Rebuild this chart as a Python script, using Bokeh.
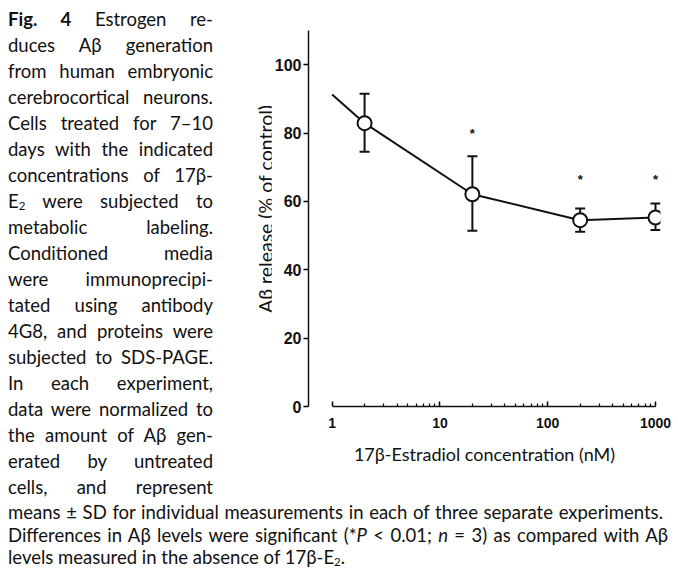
from bokeh.plotting import figure
from bokeh.models import (ColumnDataSource, Whisker, TeeHead, FixedTicker, Div, Range1d)
from bokeh.layouts import row, column
from bokeh.embed import file_html
from bokeh.resources import INLINE
from bokeh.core.properties import value

# ---- data ----
conc = [2, 20, 200, 1000]                 # nM
release = [82.9, 62.1, 54.5, 55.3]        # % of control
err_upper = [91.5, 73.2, 57.9, 59.4]
err_lower = [74.5, 51.4, 51.1, 51.6]
line_x = [1, 2, 20, 200, 1000]
line_y = [91.3, 82.9, 62.1, 54.5, 55.3]
star_x = [20, 200, 1000]
star_y = [79.9, 66.5, 66.5]
x_ticks = [1, 10, 100, 1000]
x_minor = [2, 3, 4, 5, 6, 7, 8, 9, 20, 30, 40, 50, 60, 70, 80, 90,
           200, 300, 400, 500, 600, 700, 800, 900]
y_ticks = [0, 20, 40, 60, 80, 100]
y_label_text = "A&beta; release (% of control)"
x_label_text = "17\u03b2-Estradiol concentration (nM)"

caption_lines = [
    "<b>Fig. 4</b> Estrogen re-",
    "duces A&beta; generation",
    "from human embryonic",
    "cerebrocortical neurons.",
    "Cells treated for 7&ndash;10",
    "days with the indicated",
    "concentrations of 17&beta;-",
    "E<span class='s'>2</span> were subjected to",
    "metabolic labeling.",
    "Conditioned media",
    "were immunoprecipi-",
    "tated using antibody",
    "4G8, and proteins were",
    "subjected to SDS-PAGE.",
    "In each experiment,",
    "data were normalized to",
    "the amount of A&beta; gen-",
    "erated by untreated",
    "cells, and represent",
]
bottom_lines = [
    "means &plusmn; SD for individual measurements in each of three separate experiments.",
    "Differences in A&beta; levels were significant (*<i>P</i> &lt; 0.01; <i>n</i> = 3) as compared with A&beta;",
    "levels measured in the absence of 17&beta;-E<span class='s'>2</span>.",
]

FONT = "Lato"
style_css = "<style>.s{font-size:0.62em;vertical-align:-0.15em;line-height:0}</style>"

def jline(t, w, lh, justify=True):
    al = "text-align:justify;text-align-last:justify;" if justify else "text-align:left;"
    return (f"<div style='{al}width:{w}px;height:{lh}px;line-height:{lh}px;"
            f"white-space:nowrap'>{t}</div>")

cap_html = style_css + "".join(jline(t, 205, 26) for t in caption_lines)
bot_widths = [655, 660, 660]
bot_html = style_css + "".join(jline(t, bot_widths[i], 22.5, i < 2)
                               for i, t in enumerate(bottom_lines))

common = {"font-family": FONT, "font-size": "18.5px", "color": "#111", "overflow": "visible"}
cap_div = Div(text=cap_html, width=206, height=494, margin=(6, 0, 0, 8), styles=common)
bot_div = Div(text=bot_html, width=662, height=66, margin=(1, 0, 0, 8), styles=common)

# rotated y-axis title (HTML text), sits just left of the plot's tick labels
ylab_html = ("<div style='position:relative;width:57px;height:478px'>"
             "<div style='position:absolute;left:52px;top:209px;white-space:nowrap;"
             "transform:translate(-50%,-50%) rotate(-90deg);font-size:19.5px'>"
             f"{y_label_text}</div></div>")
ylab_div = Div(text=ylab_html, width=57, height=478, margin=0,
               styles={"font-family": FONT, "color": "#111", "overflow": "visible"})

# ---- plot ----
p = figure(width=401, height=478, x_axis_type="log",
           x_range=Range1d(0.6036, 1112.8), y_range=Range1d(0, 110),
           output_backend="svg", toolbar_location=None, margin=0,
           min_border_left=36, min_border_right=12, min_border_top=30, min_border_bottom=72)
p.grid.visible = False
p.outline_line_color = None
p.background_fill_color = "white"
p.border_fill_color = "white"

src = ColumnDataSource(dict(x=conc, y=release, upper=err_upper, lower=err_lower))
w = Whisker(base="x", upper="upper", lower="lower", source=src, dimension="height",
            line_width=2, line_color="#111",
            upper_head=TeeHead(size=10, line_width=2, line_color="#111"),
            lower_head=TeeHead(size=10, line_width=2, line_color="#111"))
w.level = "underlay"
p.add_layout(w)

p.line(line_x, line_y, line_width=2, line_color="#111")
p.scatter(x="x", y="y", source=src, marker="circle", size=14, fill_color="white",
          line_color="#111", line_width=2)
p.text(x=star_x, y=star_y, text=["*"] * len(star_x), text_align="center",
       text_baseline="middle", text_font_size="13px", text_font_style="bold",
       text_color="#111", text_font=value("Liberation Sans"))

xa = p.xaxis[0]
xa.ticker = FixedTicker(ticks=x_ticks, minor_ticks=x_minor)
xa.major_label_overrides = {t: str(t) for t in x_ticks}
xa.bounds = (1, 1000)
xa.axis_line_width = 1.5
xa.axis_line_color = "#111"
xa.major_tick_in = 5
xa.major_tick_out = 0
xa.minor_tick_in = 3
xa.minor_tick_out = 0
xa.major_tick_line_width = 1.5
xa.minor_tick_line_width = 1.2
xa.major_label_text_font = "Liberation Sans"
xa.major_label_text_font_style = "bold"
xa.major_label_text_font_size = "14px"
xa.major_label_text_color = "#111"
xa.major_label_standoff = 11
xa.axis_label = x_label_text
xa.axis_label_text_font = FONT
xa.axis_label_text_font_style = "normal"
xa.axis_label_text_font_size = "18px"
xa.axis_label_text_color = "#111"
xa.axis_label_standoff = 12

ya = p.yaxis[0]
ya.ticker = FixedTicker(ticks=y_ticks)
ya.bounds = (0, 110)
ya.axis_line_width = 1.5
ya.axis_line_color = "#111"
ya.major_tick_in = 0
ya.major_tick_out = 5
ya.minor_tick_in = 0
ya.minor_tick_out = 0
ya.major_tick_line_width = 1.5
ya.major_label_text_font = "Liberation Sans"
ya.major_label_text_font_style = "bold"
ya.major_label_text_font_size = "16px"
ya.major_label_text_color = "#111"
ya.major_label_standoff = 2

layout = column(row(cap_div, ylab_div, p, spacing=0), bot_div, spacing=0)

with open("out.html", "w") as f:
    f.write(file_html(layout, INLINE))
